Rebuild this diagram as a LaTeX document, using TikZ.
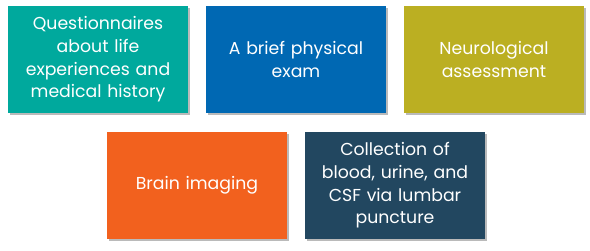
\documentclass[tikz,border=0pt]{standalone}
\usepackage{fontspec}
\setmainfont{Poppins}
\usetikzlibrary{shadows}
\definecolor{cteal}{RGB}{0,169,157}
\definecolor{cblue}{RGB}{0,104,179}
\definecolor{colive}{RGB}{187,175,34}
\definecolor{corange}{RGB}{242,97,30}
\definecolor{cnavy}{RGB}{34,71,96}
\begin{document}
\begin{tikzpicture}[x=1pt,y=1pt,
  box/.style={rectangle, minimum width=180pt, minimum height=107pt, inner sep=0pt,
    text width=176pt, align=center, text=white,
    font=\fontsize{17.3}{22.6}\selectfont,
    drop shadow={shadow xshift=1.5pt, shadow yshift=-2pt, opacity=0.45, fill=black!60}}]
\useasboundingbox (0,0) rectangle (590,250);
\node[box, fill=cteal]  (q) at (98,190.5) {Questionnaires\\about life\\experiences and\\medical history};
\node[box, fill=cblue]  (p) at (296,190.5) {A brief physical\\exam};
\node[box, fill=colive] (n) at (494,190.5) {Neurological\\assessment};
\node[box, fill=corange] (b) at (197,64.5) {Brain imaging};
\node[box, fill=cnavy]  (c) at (395,64.5) {Collection of\\blood, urine, and\\CSF via lumbar\\puncture};
\end{tikzpicture}
\end{document}
